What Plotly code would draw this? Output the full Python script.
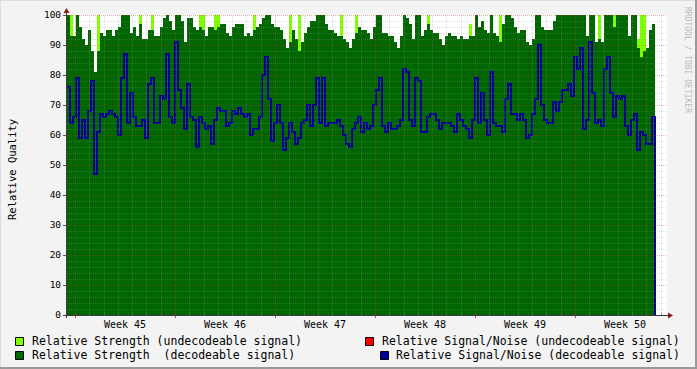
import numpy as np
import plotly.graph_objects as go

# ---------------- data ----------------
STEP_DAYS = 0.21          # sampling step of the series (days)
WEEK0 = 0.56              # start of week 45 (days from left edge of chart)
X_RANGE = [0, 42]

week_labels = ["Week 45", "Week 46", "Week 47", "Week 48", "Week 49", "Week 50"]
y_ticks = list(range(0, 101, 10))

# Relative Strength (decodeable signal)
strength_decoded = (
    [100, 93, 93, 100, 96, 92, 90, 95, 88, 81, 88, 94, 93, 95, 95, 93, 95, 96, 100, 100, 100, 94, 96, 93, 97, 92, 92, 95, 95, 93, 93, 96, 99]
    + [100, 98, 95, 100, 100, 98, 91, 99, 99, 96, 95, 96, 95, 93, 96, 96, 95, 96, 97, 97, 94, 93, 96, 97, 97, 97, 93, 94, 93, 95, 96, 97, 99]
    + [100, 100, 97, 96, 96, 95, 92, 89, 91, 95, 92, 88, 91, 94, 96, 98, 98, 100, 100, 100, 97, 95, 95, 94, 93, 93, 92, 91, 89, 92, 94, 96, 95]
    + [95, 94, 92, 96, 100, 100, 94, 94, 93, 93, 91, 89, 93, 100, 99, 97, 92, 100, 100, 93, 95, 97, 95, 94, 94, 92, 90, 93, 94, 93, 93, 92, 93]
    + [92, 92, 93, 93, 100, 96, 98, 95, 94, 100, 94, 93, 91, 97, 100, 100, 99, 96, 94, 95, 95, 91, 90, 92, 100, 100, 96, 95, 95, 95, 98, 100, 100, 100]
    + [100, 100, 100, 100, 100, 100, 100, 93, 100, 100, 91, 92, 91, 100, 100, 100, 96, 100, 100, 100, 100, 93, 100, 100, 89, 86, 88, 89, 95, 97]
)

# Relative Strength (undecodeable signal)
strength_undecoded = (
    [0, 100, 0, 0, 0, 0, 0, 0, 0, 0, 100, 0, 0, 0, 0, 0, 0, 0, 0, 0, 0, 0, 0, 0, 100, 0, 0, 0, 100, 0, 0, 0, 0]
    + [0, 0, 0, 0, 0, 0, 0, 0, 0, 0, 0, 100, 100, 0, 0, 0, 100, 100, 0, 0, 0, 0, 0, 0, 0, 0, 0, 0, 0, 100, 0, 0, 0]
    + [0, 0, 0, 0, 0, 0, 0, 0, 100, 0, 0, 100, 0, 0, 0, 0, 0, 0, 0, 0, 0, 0, 0, 0, 0, 100, 0, 0, 0, 0, 100, 0, 0]
    + [0, 0, 0, 0, 0, 0, 0, 0, 0, 0, 0, 0, 0, 0, 0, 0, 0, 0, 0, 0, 0, 100, 0, 0, 0, 0, 0, 0, 0, 0, 0, 0, 0]
    + [0, 0, 97, 0, 0, 0, 0, 0, 0, 0, 0, 0, 100, 0, 0, 0, 0, 0, 0, 0, 0, 0, 0, 0, 0, 0, 0, 0, 0, 0, 0, 100, 0, 0]
    + [0, 0, 0, 0, 0, 0, 0, 0, 0, 0, 0, 100, 0, 0, 0, 0, 100, 0, 0, 0, 0, 0, 0, 0, 92, 100, 100, 0, 0, 0]
)

# Relative Signal/Noise (decodeable signal)
snr_decoded = (
    [76, 64, 66, 79, 59, 65, 59, 68, 78, 47, 61, 67, 66, 67, 68, 67, 66, 60, 79, 87, 64, 74, 66, 63, 63, 65, 59, 77, 79, 64, 64, 73, 72]
    + [87, 66, 64, 91, 75, 69, 62, 77, 66, 65, 56, 66, 64, 62, 63, 57, 65, 69, 68, 68, 63, 64, 68, 67, 69, 67, 66, 67, 60, 62, 62, 66, 80]
    + [86, 72, 58, 64, 70, 64, 55, 59, 64, 61, 57, 59, 64, 65, 70, 63, 70, 79, 64, 79, 63, 64, 64, 64, 65, 63, 60, 57, 56, 62, 64, 66, 61]
    + [64, 62, 63, 70, 75, 79, 63, 61, 64, 62, 62, 63, 65, 82, 81, 65, 63, 79, 78, 61, 61, 66, 67, 67, 65, 62, 64, 64, 64, 63, 61, 67, 65]
    + [63, 62, 59, 65, 79, 64, 74, 65, 60, 81, 64, 63, 63, 61, 72, 77, 67, 67, 65, 67, 65, 59, 60, 67, 72, 90, 70, 65, 64, 64, 71, 68, 71, 75]
    + [75, 77, 73, 86, 82, 89, 62, 65, 91, 74, 64, 65, 63, 82, 86, 74, 66, 73, 72, 73, 63, 60, 65, 67, 55, 61, 60, 57, 57, 66]
)

legend_items = [
    ("Relative Strength (undecodeable signal)", "#80FF00"),
    ("Relative Strength  (decodeable signal)", "#006600"),
    ("Relative Signal/Noise (undecodeable signal)", "#FF0000"),
    ("Relative Signal/Noise (decodeable signal)", "#000099"),
]

# ---------------- figure ----------------
W, H = 697, 369
L, R, T, B = 67, 30, 15, 54
PW, PH = W - L - R, H - T - B
MONO = "DejaVu Sans Mono"

n = len(snr_decoded)
xs = list(np.arange(n) * STEP_DAYS)
x_end = n * STEP_DAYS

fig = go.Figure()
fig.add_trace(go.Scatter(x=xs + [x_end], y=strength_undecoded + [strength_undecoded[-1]],
                         mode="lines", line=dict(width=0, shape="hv"),
                         fill="tozeroy", fillcolor="#80FF00", hoverinfo="skip"))
fig.add_trace(go.Scatter(x=xs + [x_end], y=strength_decoded + [strength_decoded[-1]],
                         mode="lines", line=dict(width=0, shape="hv"),
                         fill="tozeroy", fillcolor="#006600", hoverinfo="skip"))
fig.add_trace(go.Scatter(x=xs + [x_end], y=snr_decoded + [0],
                         mode="lines", line=dict(width=2, shape="hv", color="#000099"),
                         hoverinfo="skip"))


def px_x(p):
    return (p - L) / PW


def px_y(p):
    return (H - B - p) / PH


def data_to_px_x(d):
    return L + (d - X_RANGE[0]) / (X_RANGE[1] - X_RANGE[0]) * PW


def data_to_px_y(v):
    return H - B - v / 100 * PH


shapes = []
MINOR = "rgba(150,150,150,0.32)"
MAJOR = "rgba(190,50,50,0.4)"
DASH = "1px,1px"
# horizontal grid (snapped to pixel centres)
for v in range(2, 101, 2):
    col = MAJOR if v % 10 == 0 else MINOR
    yp = px_y(round(data_to_px_y(v)) + 0.5)
    shapes.append(dict(type="line", xref="paper", yref="paper", x0=0, x1=1, y0=yp, y1=yp,
                       line=dict(color=col, width=1, dash=DASH), layer="above"))
# vertical grid: days (minor) and weeks (major)
for k in range(0, 42):
    d = WEEK0 + k
    if d >= X_RANGE[1]:
        break
    col = MAJOR if k % 7 == 0 else MINOR
    xp = px_x(round(data_to_px_x(d)) + 0.5)
    shapes.append(dict(type="line", xref="paper", yref="paper", x0=xp, x1=xp, y0=0, y1=1,
                       line=dict(color=col, width=1, dash=DASH), layer="above"))
    # tick marks on the axis
    shapes.append(dict(type="line", xref="paper", yref="paper", x0=xp, x1=xp,
                       y0=px_y(H - B + 3 if k % 7 == 0 else H - B + 1), y1=px_y(H - B - 2),
                       line=dict(color="rgba(170,40,40,0.8)" if k % 7 == 0 else "rgba(120,120,120,0.7)", width=1),
                       layer="above"))

# axis lines
AX = "#3a3a3a"
shapes.append(dict(type="line", xref="paper", yref="paper", x0=px_x(63), x1=px_x(668),
                   y0=px_y(H - B + 0.5), y1=px_y(H - B + 0.5), line=dict(color=AX, width=1), layer="above"))
shapes.append(dict(type="line", xref="paper", yref="paper", x0=px_x(L - 0.5), x1=px_x(L - 0.5),
                   y0=px_y(318), y1=px_y(12), line=dict(color=AX, width=1), layer="above"))
# arrows
shapes.append(dict(type="path", xref="paper", yref="paper", xsizemode="pixel", ysizemode="pixel",
                   xanchor=px_x(L - 0.5), yanchor=1, path="M -3,2 L 3,2 L 0,7 Z",
                   fillcolor="#8B1A1A", line=dict(width=0), layer="above"))
shapes.append(dict(type="path", xref="paper", yref="paper", xsizemode="pixel", ysizemode="pixel",
                   xanchor=1, yanchor=px_y(H - B + 0.5), path="M 1,-3 L 1,3 L 6,0 Z",
                   fillcolor="#8B1A1A", line=dict(width=0), layer="above"))

# 3D border of the canvas
shapes.append(dict(type="line", xref="paper", yref="paper", x0=px_x(0), x1=px_x(W), y0=px_y(0.5), y1=px_y(0.5),
                   line=dict(color="#DCDCDC", width=1)))
shapes.append(dict(type="line", xref="paper", yref="paper", x0=px_x(0.5), x1=px_x(0.5), y0=px_y(0), y1=px_y(H),
                   line=dict(color="#DCDCDC", width=1)))
shapes.append(dict(type="line", xref="paper", yref="paper", x0=px_x(0), x1=px_x(W), y0=px_y(H - 1), y1=px_y(H - 1),
                   line=dict(color="#999999", width=2)))
shapes.append(dict(type="line", xref="paper", yref="paper", x0=px_x(W - 1), x1=px_x(W - 1), y0=px_y(0), y1=px_y(H),
                   line=dict(color="#999999", width=2)))

# legend squares
legend_pos = [(15, 30, 341), (15, 30, 355), (365, 380, 341), (380, 394, 355)]
annotations = []
for (label, color), (sx, tx, cy) in zip(legend_items, legend_pos):
    shapes.append(dict(type="rect", xref="paper", yref="paper",
                       x0=px_x(sx + 0.5), x1=px_x(sx + 8.5), y0=px_y(cy + 4.5), y1=px_y(cy - 3.5),
                       fillcolor=color, line=dict(color="black", width=1)))
    annotations.append(dict(xref="paper", yref="paper", x=px_x(tx), y=px_y(cy),
                            xanchor="left", yanchor="middle", showarrow=False, text=label,
                            font=dict(family=MONO, size=11.5, color="black")))

annotations.append(dict(xref="paper", yref="paper", x=px_x(12), y=px_y(170), textangle=-90,
                        xanchor="center", yanchor="middle", showarrow=False, text="Relative Quality",
                        font=dict(family=MONO, size=10.5, color="black")))
annotations.append(dict(xref="paper", yref="paper", x=px_x(688), y=px_y(60), textangle=90,
                        xanchor="center", yanchor="middle", showarrow=False, text="RRDTOOL / TOBI OETIKER",
                        font=dict(family=MONO, size=8, color="#BBBBBB")))

fig.update_layout(
    width=W, height=H,
    margin=dict(l=L, r=R, t=T, b=B, autoexpand=False),
    paper_bgcolor="#F3F3F3", plot_bgcolor="#FFFFFF",
    showlegend=False,
    shapes=shapes, annotations=annotations,
    xaxis=dict(range=X_RANGE, showgrid=False, zeroline=False, showline=False,
               tickmode="array", tickvals=[WEEK0 + 3.5 + 7 * i for i in range(len(week_labels))],
               ticktext=week_labels, ticks="", ticklabelstandoff=2,
               tickfont=dict(family=MONO, size=10, color="black")),
    yaxis=dict(range=[0, 100], showgrid=False, zeroline=False, showline=False,
               tickmode="array", tickvals=y_ticks, ticks="outside", ticklen=3, tickcolor="#555",
               tickfont=dict(family=MONO, size=9.5, color="black")),
)

fig.write_html("out.html")
